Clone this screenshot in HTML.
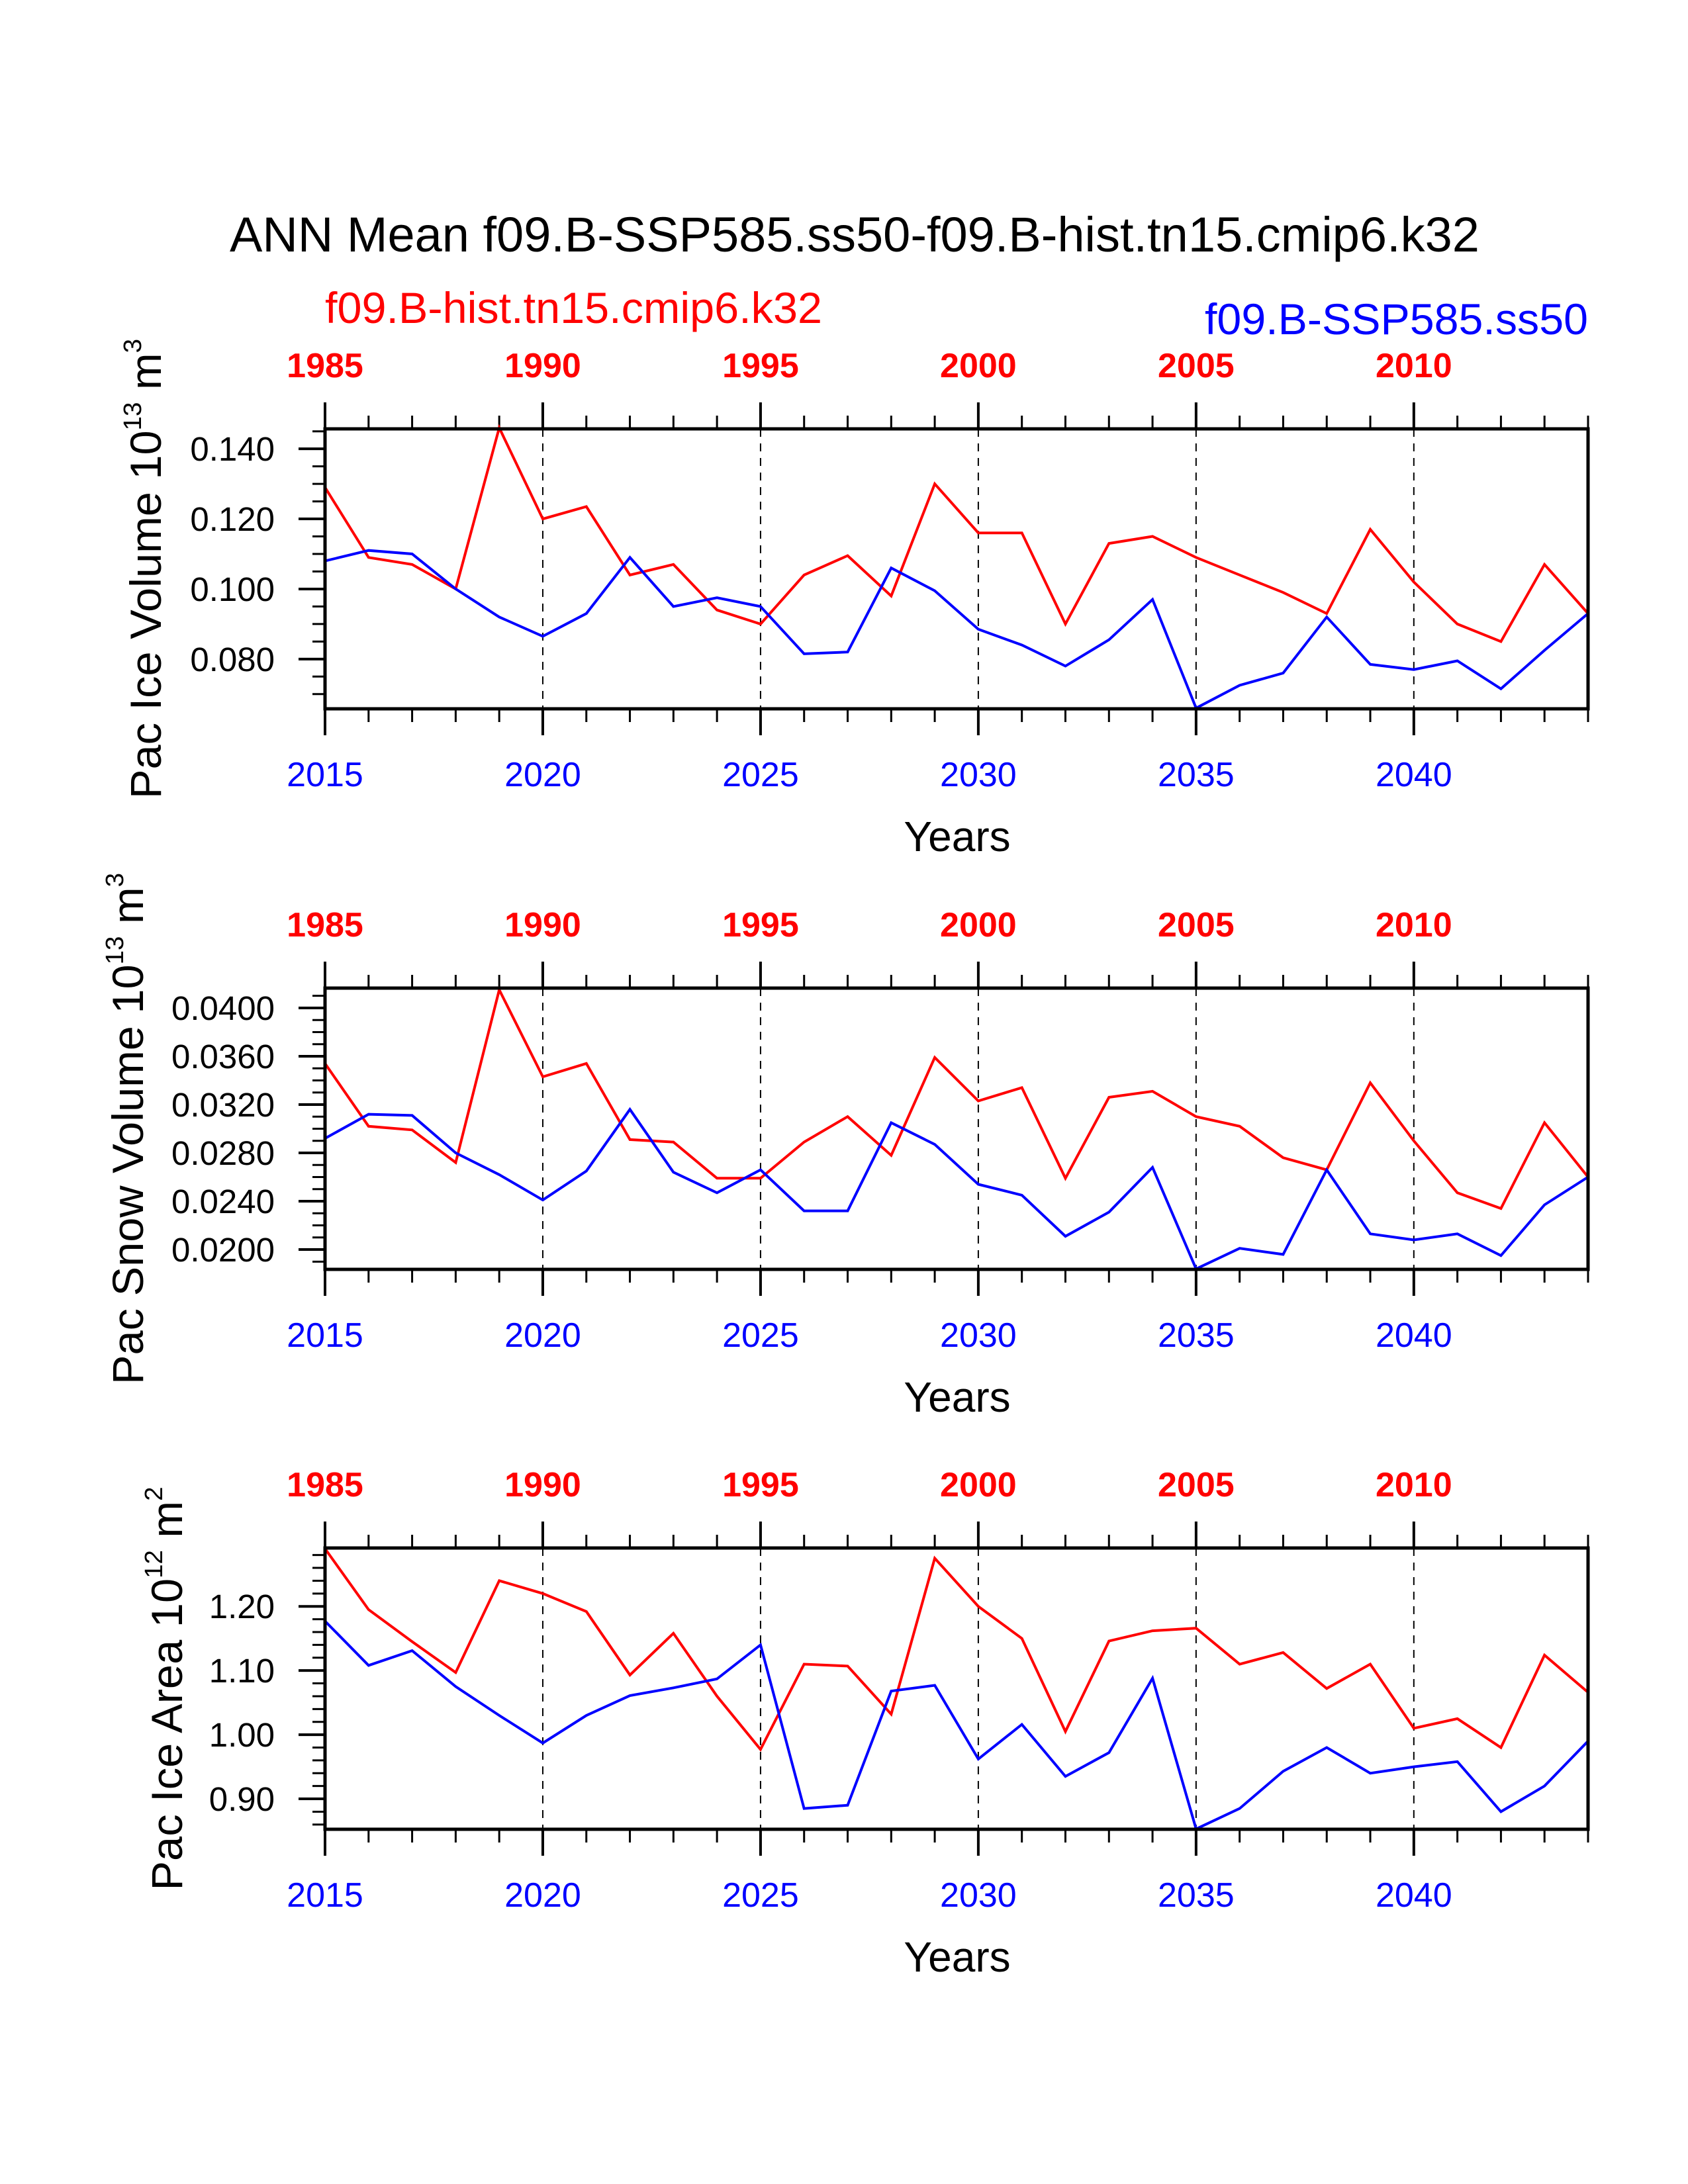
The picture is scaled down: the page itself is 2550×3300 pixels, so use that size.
<!DOCTYPE html>
<html><head><meta charset="utf-8"><style>
html,body{margin:0;padding:0;background:#fff;}
svg{display:block;font-family:"Liberation Sans",sans-serif;}
</style></head><body>
<svg id="c" width="2550" height="3300" xmlns="http://www.w3.org/2000/svg">
<text x="1291" y="380" font-size="74" text-anchor="middle" fill="#000">ANN Mean f09.B-SSP585.ss50-f09.B-hist.tn15.cmip6.k32</text>
<text x="491" y="488" font-size="66" fill="#f00" textLength="751" lengthAdjust="spacingAndGlyphs">f09.B-hist.tn15.cmip6.k32</text>
<text x="1820" y="505" font-size="66" fill="#00f" textLength="579" lengthAdjust="spacingAndGlyphs">f09.B-SSP585.ss50</text>
</svg>
<script>
const years = [2015,2016,2017,2018,2019,2020,2021,2022,2023,2024,2025,2026,2027,2028,2029,2030,2031,2032,2033,2034,2035,2036,2037,2038,2039,2040,2041,2042,2043,2044];
const bottomTickLabels = ["2015","2020","2025","2030","2035","2040"];
const topTickLabels = ["1985","1990","1995","2000","2005","2010"];
const iceVolRed = [0.129,0.109,0.107,0.100,0.146,0.120,0.1235,0.104,0.107,0.094,0.090,0.104,0.1095,0.098,0.130,0.116,0.116,0.090,0.113,0.115,0.109,0.104,0.099,0.093,0.117,0.102,0.090,0.085,0.107,0.093];
const iceVolBlue = [0.108,0.111,0.110,0.100,0.092,0.0865,0.093,0.109,0.095,0.0975,0.095,0.0815,0.082,0.106,0.0995,0.0885,0.084,0.078,0.0855,0.097,0.066,0.0725,0.076,0.092,0.0785,0.077,0.0795,0.0715,0.0825,0.093];
const snowVolRed = [0.0354,0.0302,0.0299,0.0272,0.0415,0.0343,0.0354,0.0291,0.0289,0.0259,0.0259,0.0289,0.0310,0.0278,0.0359,0.0323,0.0334,0.0259,0.0326,0.0331,0.0310,0.0302,0.0276,0.0266,0.0338,0.0290,0.0247,0.0234,0.0305,0.0260];
const snowVolBlue = [0.0292,0.0312,0.0311,0.0280,0.0262,0.0241,0.0265,0.0316,0.0264,0.0247,0.0266,0.0232,0.0232,0.0305,0.0287,0.0254,0.0245,0.0211,0.0231,0.0268,0.0184,0.0201,0.0196,0.0266,0.0213,0.0208,0.0213,0.0195,0.0237,0.0260];
const iceAreaRed = [1.29,1.195,1.145,1.097,1.24,1.22,1.192,1.093,1.158,1.06,0.977,1.11,1.107,1.032,1.275,1.20,1.15,1.005,1.146,1.162,1.166,1.11,1.128,1.072,1.11,1.01,1.025,0.98,1.124,1.066];
const iceAreaBlue = [1.177,1.108,1.131,1.075,1.03,0.987,1.03,1.061,1.073,1.087,1.14,0.885,0.89,1.068,1.077,0.962,1.016,0.935,0.972,1.088,0.853,0.885,0.943,0.98,0.94,0.95,0.958,0.88,0.92,0.99];
const iceVolTicks = ["0.080","0.100","0.120","0.140"];
const snowVolTicks = ["0.0200","0.0240","0.0280","0.0320","0.0360","0.0400"];
const iceAreaTicks = ["0.90","1.00","1.10","1.20"];

const svg = document.getElementById('c');
const NS = 'http://www.w3.org/2000/svg';
function mk(tag, attrs, parent){const e=document.createElementNS(NS,tag);for(const k in attrs)e.setAttribute(k,attrs[k]);(parent||svg).appendChild(e);return e;}
const X0=491, X1=2399;
function xs(yr){return X0+(yr-2015)/(2044-2015)*(X1-X0);}

const panels=[
 {top:648,bot:1071,ymin:0.0658,ymax:0.1457,minor:0.005,ticks:iceVolTicks,red:iceVolRed,blue:iceVolBlue,tx:221,tl:695,title:['Pac Ice Volume 10','13',' m','3'],name:'ice-volume'},
 {top:1493,bot:1918,ymin:0.01836,ymax:0.04164,minor:0.001,ticks:snowVolTicks,red:snowVolRed,blue:snowVolBlue,tx:194,tl:773,title:['Pac Snow Volume 10','13',' m','3'],name:'snow-volume'},
 {top:2339,bot:2764,ymin:0.8526,ymax:1.291,minor:0.02,ticks:iceAreaTicks,red:iceAreaRed,blue:iceAreaBlue,tx:253,tl:610,title:['Pac Ice Area 10','12',' m','2'],name:'ice-area'}
];

panels.forEach(p=>{
  const g=mk('g',{});
  
  
  const ys=v=>p.bot-(v-p.ymin)/(p.ymax-p.ymin)*(p.bot-p.top);
  for(let yr=2020;yr<=2040;yr+=5){
    const l=mk('line',{x1:xs(yr),x2:xs(yr),y1:p.top,y2:p.bot,stroke:'#000','stroke-width':2,'stroke-dasharray':'12,10'},g);
    
    
  }
  years.forEach(yr=>{
    const major=(yr-2015)%5===0, len=major?40:20;
    mk('line',{x1:xs(yr),x2:xs(yr),y1:p.top,y2:p.top-len,stroke:'#000','stroke-width':major?4:3},g);
    mk('line',{x1:xs(yr),x2:xs(yr),y1:p.bot,y2:p.bot+len,stroke:'#000','stroke-width':major?4:3},g);
  });
  bottomTickLabels.forEach((lab,i)=>{
    const t=mk('text',{x:xs(+lab),y:p.bot+117,'font-size':52,'text-anchor':'middle',fill:'#00f'},g);
    t.textContent=lab;
    
    
    const t2=mk('text',{x:xs(+lab),y:p.top-78,'font-size':52,'font-weight':'bold','text-anchor':'middle',fill:'#f00'},g);
    t2.textContent=topTickLabels[i];
    
    
  });
  const n=Math.floor(p.ymax/p.minor);
  for(let k=Math.ceil(p.ymin/p.minor);k<=n;k++){
    const v=k*p.minor, y=ys(v);
    mk('line',{x1:X0,x2:X0-19,y1:y,y2:y,stroke:'#000','stroke-width':3},g);
  }
  p.ticks.forEach(lab=>{
    const y=ys(+lab);
    mk('line',{x1:X0,x2:X0-40,y1:y,y2:y,stroke:'#000','stroke-width':4},g);
    const t=mk('text',{x:415,y:y+18,'font-size':51,'text-anchor':'end',fill:'#000'},g);
    t.textContent=lab;
    
    
  });
  const pts=arr=>arr.map((v,i)=>xs(years[i]).toFixed(1)+','+ys(v).toFixed(1)).join(' ');
  const r=mk('polyline',{points:pts(p.red),fill:'none',stroke:'#f00','stroke-width':4,'stroke-linejoin':'miter'},g);
  
  
  const b=mk('polyline',{points:pts(p.blue),fill:'none',stroke:'#00f','stroke-width':4,'stroke-linejoin':'miter'},g);
  
  
  const f=mk('rect',{x:X0,y:p.top,width:X1-X0,height:p.bot-p.top,fill:'none',stroke:'#000','stroke-width':5},g);
  
  
  const xt=mk('text',{x:1446,y:p.bot+215,'font-size':64,'text-anchor':'middle',fill:'#000'},g);
  xt.textContent='Years';
  
  
  const cy=(p.top+p.bot)/2;
  const yt=mk('text',{x:p.tx+22,y:cy,'font-size':66,'text-anchor':'middle',fill:'#000',textLength:p.tl,lengthAdjust:'spacingAndGlyphs',transform:'rotate(-90 '+(p.tx+22)+' '+cy+')'},g);
  
  
  const s1=mk('tspan',{},yt); s1.textContent=p.title[0];
  const s2=mk('tspan',{'font-size':38,dy:-30},yt); s2.textContent=p.title[1];
  const s3=mk('tspan',{dy:30},yt); s3.textContent=p.title[2];
  const s4=mk('tspan',{'font-size':38,dy:-30},yt); s4.textContent=p.title[3];
});
</script>
</body></html>
